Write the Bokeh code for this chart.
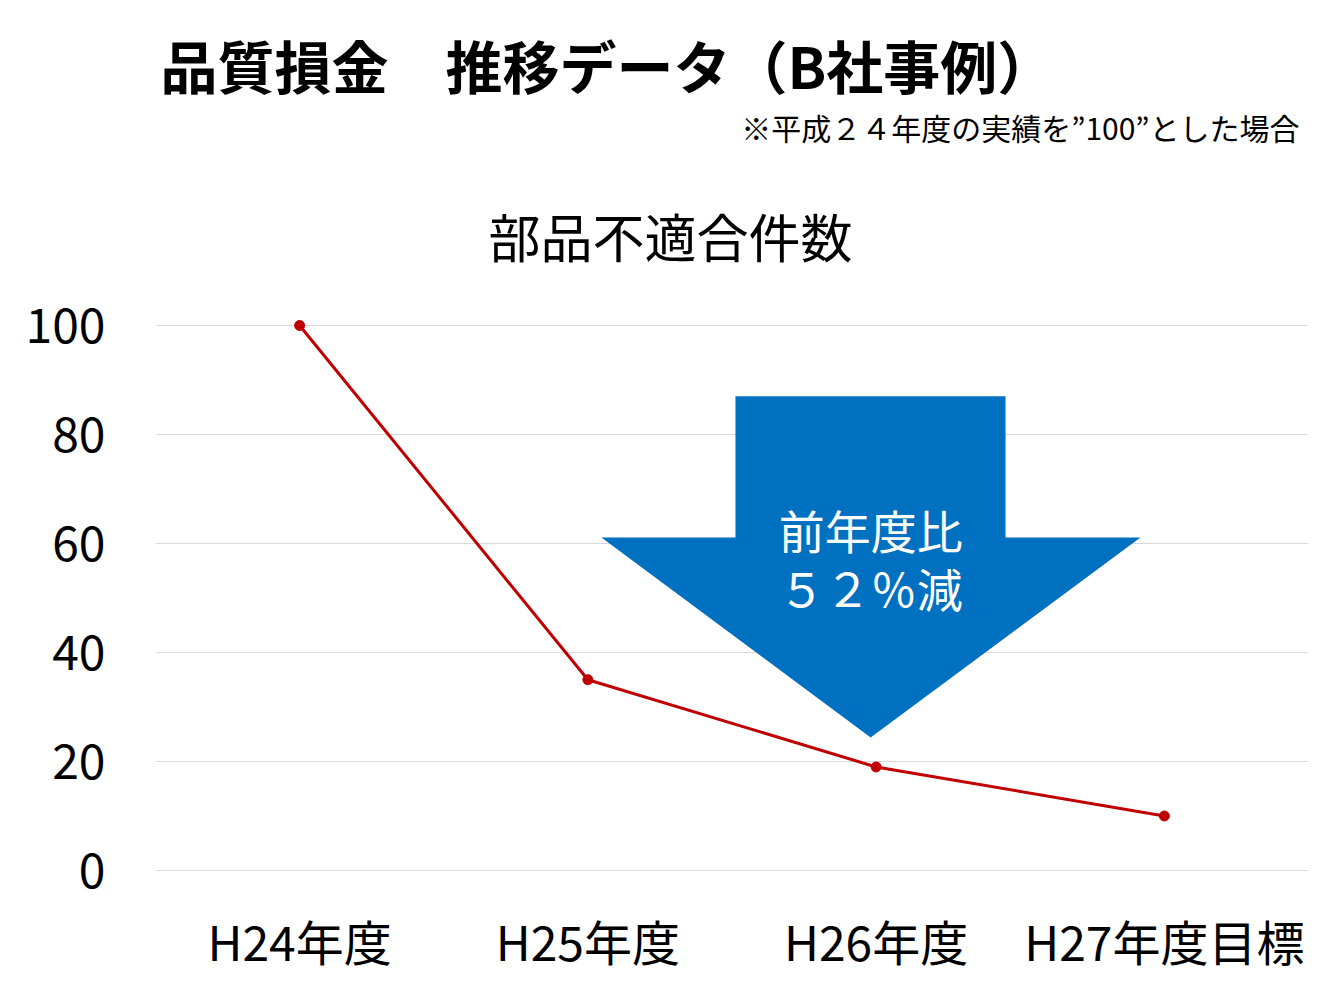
from bokeh.plotting import figure
from bokeh.models import Range1d, FactorRange, FixedTicker, Label
from bokeh.core.properties import value
from bokeh.embed import file_html
from bokeh.resources import INLINE

# ---- data ----
categories = ["H24年度", "H25年度", "H26年度", "H27年度目標"]
values = [100, 35, 19, 10]
y_ticks = [0, 20, 40, 60, 80, 100]

title_text = "品質損金　推移データ（B社事例）"
note_text = "※平成２４年度の実績を”100”とした場合"
chart_title = "部品不適合件数"
arrow_text_1 = "前年度比"
arrow_text_2 = "５２％減"

# down-arrow annotation outline (synthetic category x, value y)
arrow_x = [2.012, 2.949, 2.949, 3.417, 2.481, 1.547, 2.012]
arrow_y = [87.0, 87.0, 61.1, 61.1, 24.4, 61.1, 61.1]

FONT = "Noto Sans CJK JP"

p = figure(
    width=1330, height=998,
    x_range=FactorRange(factors=categories, range_padding=0),
    y_range=Range1d(-4.954, 159.63),
    output_backend="svg", toolbar_location=None,
    min_border_left=155, min_border_right=22,
    min_border_top=0, min_border_bottom=101,
)
p.outline_line_color = None
p.background_fill_color = "white"
p.border_fill_color = "white"

# grid
p.xgrid.visible = False
p.ygrid.ticker = FixedTicker(ticks=y_ticks)
p.ygrid.grid_line_color = "#d9d9d9"
p.ygrid.grid_line_width = 1

# axes
for ax in (p.xaxis[0], p.yaxis[0]):
    ax.axis_line_color = None
    ax.major_tick_line_color = None
    ax.minor_tick_line_color = None
    ax.major_tick_in = 0
    ax.major_tick_out = 0
    ax.major_label_text_font = FONT
    ax.major_label_text_font_size = "48px"
    ax.major_label_text_color = "#000000"
p.yaxis.ticker = FixedTicker(ticks=y_ticks)
p.yaxis.major_label_standoff = 50
p.xaxis.major_label_standoff = 7

# arrow
p.patch(arrow_x, arrow_y, fill_color="#0070C0", line_color=None)
p.text(x=[arrow_x[4]] * 2, y=[62.7, 52.0], text=[arrow_text_1, arrow_text_2],
       text_font=value(FONT), text_font_size="46px", text_color="white",
       text_align="center", text_baseline="middle")

# series
p.line(categories, values, line_color="#C00000", line_width=3)
p.scatter(categories, values, size=10, fill_color="#C00000", line_color="#C00000")

# titles
p.add_layout(Label(x=0.017, y=147.9, text=title_text, text_font=FONT,
                   text_font_size="57px", text_font_style="bold",
                   text_color="#000000", text_align="left", text_baseline="middle"))
p.add_layout(Label(x=3.969, y=136.5, text=note_text, text_font=FONT,
                   text_font_size="30px", text_color="#000000",
                   text_align="right", text_baseline="middle"))
p.add_layout(Label(x=1.787, y=116.5, text=chart_title, text_font=FONT,
                   text_font_size="52px", text_color="#000000",
                   text_align="center", text_baseline="middle"))

open("out.html", "w").write(file_html(p, INLINE))
